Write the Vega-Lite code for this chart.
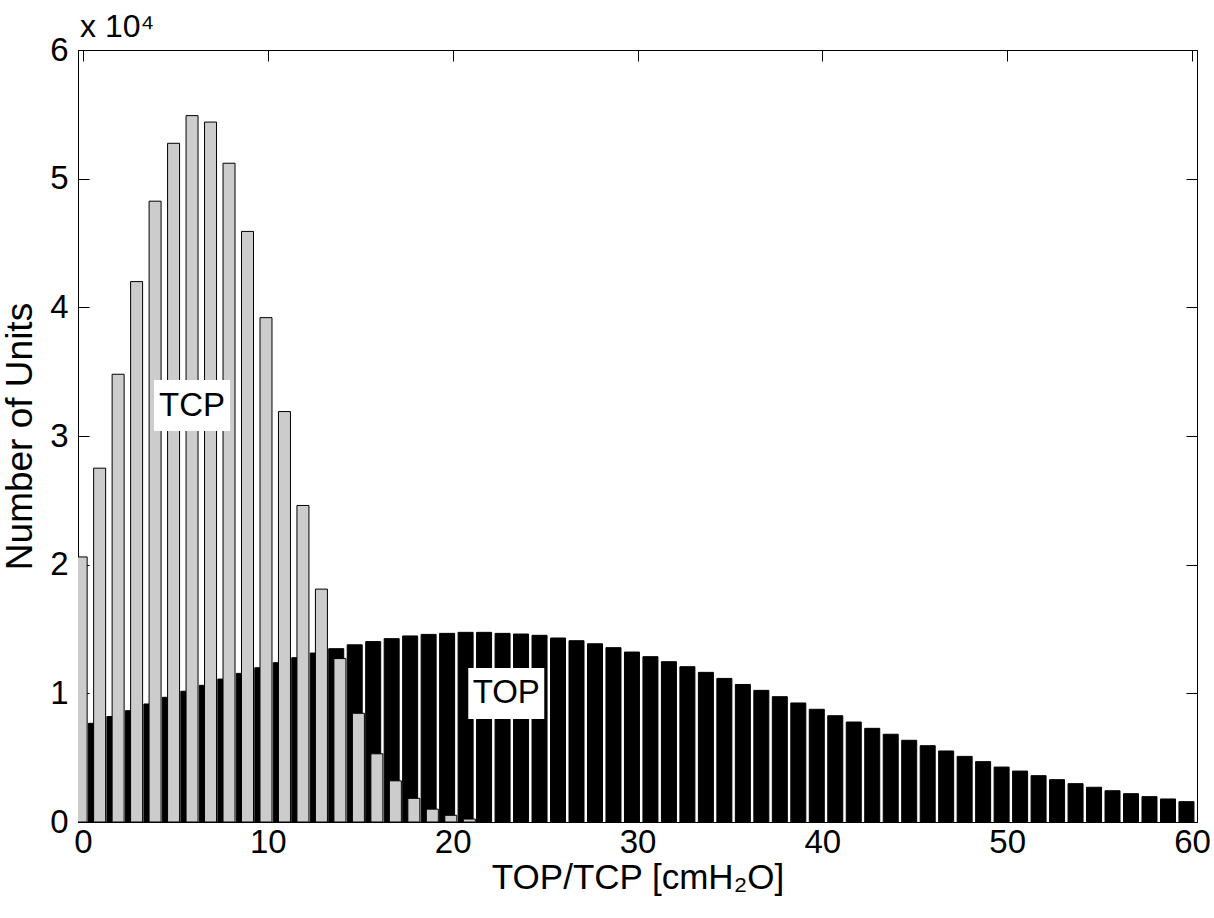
{
  "$schema": "https://vega.github.io/schema/vega-lite/v6.json",
  "width": 1119,
  "height": 772,
  "autosize": {"type": "none"},
  "padding": {"left": 78, "top": 50, "right": 17, "bottom": 96},
  "background": "white",
  "config": {
    "view": {"stroke": "black", "strokeWidth": 1},
    "font": "Liberation Sans",
    "axis": {
      "domainColor": "black",
      "tickColor": "black",
      "labelColor": "black",
      "titleColor": "black",
      "labelFont": "Liberation Sans",
      "titleFont": "Liberation Sans",
      "titleFontWeight": "normal",
      "grid": false
    }
  },
  "title": {
    "text": "x 10⁴",
    "anchor": "start",
    "frame": "group",
    "fontSize": 32,
    "font": "Liberation Sans",
    "fontWeight": "normal",
    "color": "black",
    "offset": -10,
    "dx": 2
  },
  "datasets": {
    "bars": [
      {"series": "TCP", "x": -0.1, "count": 20600},
      {"series": "TCP", "x": 0.9, "count": 27500},
      {"series": "TCP", "x": 1.9, "count": 34800},
      {"series": "TCP", "x": 2.9, "count": 42000},
      {"series": "TCP", "x": 3.9, "count": 48250},
      {"series": "TCP", "x": 4.9, "count": 52750},
      {"series": "TCP", "x": 5.9, "count": 54900},
      {"series": "TCP", "x": 6.9, "count": 54400},
      {"series": "TCP", "x": 7.9, "count": 51200},
      {"series": "TCP", "x": 8.9, "count": 45900},
      {"series": "TCP", "x": 9.9, "count": 39200},
      {"series": "TCP", "x": 10.9, "count": 31900},
      {"series": "TCP", "x": 11.9, "count": 24600},
      {"series": "TCP", "x": 12.9, "count": 18100},
      {"series": "TCP", "x": 13.9, "count": 12700},
      {"series": "TCP", "x": 14.9, "count": 8450},
      {"series": "TCP", "x": 15.9, "count": 5300},
      {"series": "TCP", "x": 16.9, "count": 3200},
      {"series": "TCP", "x": 17.9, "count": 1840},
      {"series": "TCP", "x": 18.9, "count": 1000},
      {"series": "TCP", "x": 19.9, "count": 520},
      {"series": "TCP", "x": 20.9, "count": 230},
      {"series": "TOP", "x": 0.7, "count": 7670},
      {"series": "TOP", "x": 1.7, "count": 8200},
      {"series": "TOP", "x": 2.7, "count": 8650},
      {"series": "TOP", "x": 3.7, "count": 9170},
      {"series": "TOP", "x": 4.7, "count": 9690},
      {"series": "TOP", "x": 5.7, "count": 10160},
      {"series": "TOP", "x": 6.7, "count": 10620},
      {"series": "TOP", "x": 7.7, "count": 11110},
      {"series": "TOP", "x": 8.7, "count": 11550},
      {"series": "TOP", "x": 9.7, "count": 11990},
      {"series": "TOP", "x": 10.7, "count": 12380},
      {"series": "TOP", "x": 11.7, "count": 12770},
      {"series": "TOP", "x": 12.7, "count": 13130},
      {"series": "TOP", "x": 13.7, "count": 13470},
      {"series": "TOP", "x": 14.7, "count": 13770},
      {"series": "TOP", "x": 15.7, "count": 14020},
      {"series": "TOP", "x": 16.7, "count": 14250},
      {"series": "TOP", "x": 17.7, "count": 14460},
      {"series": "TOP", "x": 18.7, "count": 14580},
      {"series": "TOP", "x": 19.7, "count": 14660},
      {"series": "TOP", "x": 20.7, "count": 14740},
      {"series": "TOP", "x": 21.7, "count": 14740},
      {"series": "TOP", "x": 22.7, "count": 14660},
      {"series": "TOP", "x": 23.7, "count": 14610},
      {"series": "TOP", "x": 24.7, "count": 14510},
      {"series": "TOP", "x": 25.7, "count": 14300},
      {"series": "TOP", "x": 26.7, "count": 14090},
      {"series": "TOP", "x": 27.7, "count": 13850},
      {"series": "TOP", "x": 28.7, "count": 13550},
      {"series": "TOP", "x": 29.7, "count": 13210},
      {"series": "TOP", "x": 30.7, "count": 12850},
      {"series": "TOP", "x": 31.7, "count": 12460},
      {"series": "TOP", "x": 32.7, "count": 12070},
      {"series": "TOP", "x": 33.7, "count": 11630},
      {"series": "TOP", "x": 34.7, "count": 11160},
      {"series": "TOP", "x": 35.7, "count": 10690},
      {"series": "TOP", "x": 36.7, "count": 10230},
      {"series": "TOP", "x": 37.7, "count": 9740},
      {"series": "TOP", "x": 38.7, "count": 9250},
      {"series": "TOP", "x": 39.7, "count": 8760},
      {"series": "TOP", "x": 40.7, "count": 8260},
      {"series": "TOP", "x": 41.7, "count": 7770},
      {"series": "TOP", "x": 42.7, "count": 7280},
      {"series": "TOP", "x": 43.7, "count": 6820},
      {"series": "TOP", "x": 44.7, "count": 6350},
      {"series": "TOP", "x": 45.7, "count": 5930},
      {"series": "TOP", "x": 46.7, "count": 5520},
      {"series": "TOP", "x": 47.7, "count": 5100},
      {"series": "TOP", "x": 48.7, "count": 4690},
      {"series": "TOP", "x": 49.7, "count": 4270},
      {"series": "TOP", "x": 50.7, "count": 3960},
      {"series": "TOP", "x": 51.7, "count": 3600},
      {"series": "TOP", "x": 52.7, "count": 3290},
      {"series": "TOP", "x": 53.7, "count": 2980},
      {"series": "TOP", "x": 54.7, "count": 2700},
      {"series": "TOP", "x": 55.7, "count": 2430},
      {"series": "TOP", "x": 56.7, "count": 2200},
      {"series": "TOP", "x": 57.7, "count": 1970},
      {"series": "TOP", "x": 58.7, "count": 1790},
      {"series": "TOP", "x": 59.7, "count": 1580}
    ],
    "labels": [
      {"label": "TCP", "x": 5.9, "count": 32370},
      {"label": "TOP", "x": 22.9, "count": 9990}
    ]
  },
  "resolve": {"axis": {"x": "independent", "y": "independent"}},
  "layer": [
    {
      "data": {"name": "bars"},
      "transform": [{"filter": "datum.series === 'TOP'"}],
      "mark": {"type": "bar", "width": 15, "fill": "black", "stroke": "black", "strokeWidth": 1, "clip": true},
      "encoding": {
        "x": {
          "field": "x", "type": "quantitative",
          "scale": {"domain": [0, 60], "nice": false, "zero": false},
          "axis": {
            "orient": "bottom", "values": [0, 10, 20, 30, 40, 50, 60],
            "tickSize": -11, "labelFontSize": 33, "labelPadding": 15,
            "labelFlush": false, "labelOverlap": false,
            "title": "TOP/TCP [cmH₂O]", "titleFontSize": 35, "titlePadding": 1
          }
        },
        "y": {
          "field": "count", "type": "quantitative",
          "scale": {"domain": [0, 60000], "nice": false},
          "axis": {
            "orient": "left", "values": [0, 10000, 20000, 30000, 40000, 50000, 60000],
            "labelExpr": "format(datum.value / 10000, 'd')",
            "tickSize": -11, "labelFontSize": 33, "labelPadding": 21,
            "labelFlush": false, "labelOverlap": false,
            "title": "Number of Units", "titleFontSize": 37, "titlePadding": 10
          }
        }
      }
    },
    {
      "data": {"name": "bars"},
      "transform": [{"filter": "datum.series === 'TCP'"}],
      "mark": {"type": "bar", "width": 12, "fill": "#cccccc", "stroke": "black", "strokeWidth": 1, "clip": true},
      "encoding": {
        "x": {"field": "x", "type": "quantitative", "axis": null},
        "y": {"field": "count", "type": "quantitative", "axis": null}
      }
    },
    {
      "data": {"name": "labels"},
      "mark": {"type": "point", "shape": "M-1,-0.67H1V0.67H-1Z", "size": 5776, "filled": true, "fill": "white", "stroke": null, "opacity": 1},
      "encoding": {
        "x": {"field": "x", "type": "quantitative", "axis": null},
        "y": {"field": "count", "type": "quantitative", "axis": null}
      }
    },
    {
      "data": {"name": "labels"},
      "mark": {"type": "text", "fontSize": 33, "font": "Liberation Sans", "color": "black", "align": "center", "baseline": "middle"},
      "encoding": {
        "x": {
          "field": "x", "type": "quantitative",
          "axis": {"orient": "top", "values": [0, 10, 20, 30, 40, 50, 60], "labels": false, "title": null, "tickSize": -11, "domain": false}
        },
        "y": {
          "field": "count", "type": "quantitative",
          "axis": {"orient": "right", "values": [0, 10000, 20000, 30000, 40000, 50000, 60000], "labels": false, "title": null, "tickSize": -11, "domain": false}
        },
        "text": {"field": "label"}
      }
    }
  ]
}
